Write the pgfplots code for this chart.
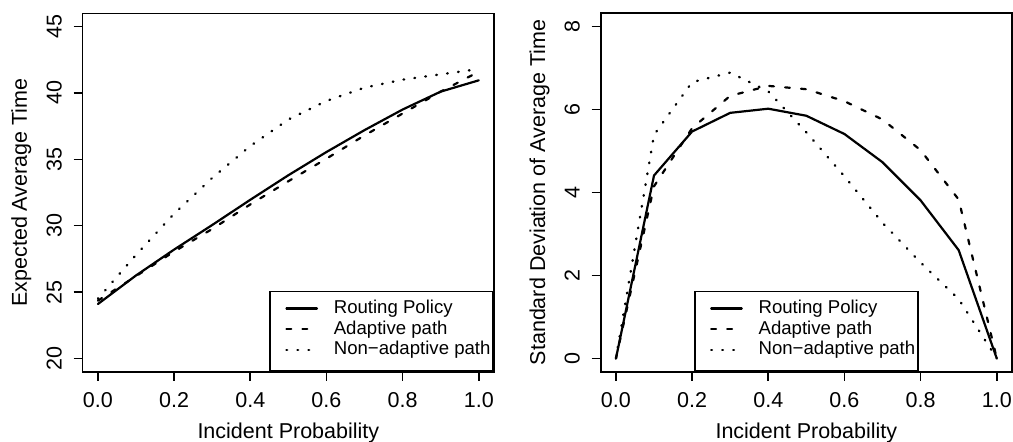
\documentclass[border=0pt]{standalone}
\usepackage{fontspec}
\setmainfont{Liberation Sans}
\usepackage{pgfplots}
\pgfplotsset{compat=1.18}

% R-like base graphics style, 1px = 0.5pt
\pgfplotsset{
  rplot/.style={
    scale only axis, width=205.65pt, height=179.2pt,
    xmin=-0.04, xmax=1.04,
    axis line style={line width=0.8pt},
    tick align=outside, xtick pos=bottom, ytick pos=left,
    major tick length=4.5pt,
    every tick/.style={black, line width=0.8pt},
    xtick={0,0.2,0.4,0.6,0.8,1},
    xticklabels={0.0,0.2,0.4,0.6,0.8,1.0},
    tick label style={font=\fontsize{10.75}{12}\selectfont},
    xticklabel style={anchor=north, inner sep=0pt},
    yticklabel style={rotate=90, anchor=base, inner sep=0pt},
    xticklabel shift=5.5pt, yticklabel shift=6pt,
    every axis x label/.style={at={(rel axis cs:0.5,0)}, anchor=base, inner sep=0pt, yshift=-33.3pt, font=\fontsize{10.75}{12}\selectfont},
    every axis y label/.style={at={(rel axis cs:0,0.5)}, xshift=-27.85pt, rotate=90, anchor=base, inner sep=0pt, font=\fontsize{10.75}{12}\selectfont},
    xlabel={Incident Probability},
    legend cell align=left,
    legend style={draw=black, line width=0.8pt, fill=white,
      font=\fontsize{9.3}{10}\selectfont,
      inner xsep=1.35pt, inner ysep=4.5pt, row sep=0.35pt, column sep=7.85pt,
      nodes={inner sep=0pt, text height=6.5pt, text depth=3.5pt}},
    legend image code/.code={\path (0pt,0pt); \draw[##1] (6.3pt,1pt) -- (21.55pt,1pt);},
  },
  rsolid/.style={black, line width=1.1pt, line cap=round, line join=round},
  rdash/.style={black, line width=1.1pt, line cap=round, line join=round, dash pattern=on 2.4pt off 5.6pt},
  rdot/.style={black, line width=1.2pt, line cap=round, line join=round, dash pattern=on 0.35pt off 5.15pt},
}

\pgfplotstableread{
p     routing adaptive nonadaptive
0.0   24.10   24.35    24.50
0.1   26.25   26.20    27.80
0.2   28.20   28.05    30.90
0.3   30.05   29.75    33.60
0.4   31.95   31.60    36.00
0.5   33.80   33.35    38.00
0.6   35.55   35.05    39.40
0.7   37.20   36.80    40.40
0.8   38.75   38.45    41.00
0.9   40.10   40.10    41.40
1.0   40.95   41.60    41.80
}\meantable

\pgfplotstableread{
p     routing adaptive nonadaptive
0.0   0.00    0.00     0.00
0.1   4.41    4.15     5.39
0.2   5.47    5.55     6.66
0.3   5.92    6.33     6.89
0.4   6.02    6.57     6.44
0.5   5.85    6.49     5.45
0.6   5.41    6.20     4.39
0.7   4.73    5.76     3.27
0.8   3.81    5.02     2.31
0.9   2.61    3.83     1.43
1.0   0.00    0.00     0.00
}\sdtable

\begin{document}
\begin{tikzpicture}
\useasboundingbox (0,0) rectangle (506.5pt,220.5pt);

\begin{axis}[rplot, at={(41.35pt,34.65pt)}, anchor=south west,
  ymin=19, ymax=46, ytick={20,25,30,35,40,45}, yticklabels={20,25,30,35,40,45},
  ylabel={Expected Average Time},
  legend style={at={(1,0)}, anchor=south east}]
\addplot[rsolid] table[x=p, y=routing] {\meantable};
\addplot[rdash] table[x=p, y=adaptive] {\meantable};
\addplot[rdot] table[x=p, y=nonadaptive] {\meantable};
\legend{Routing Policy, Adaptive path, Non−adaptive path}
\end{axis}

\begin{axis}[rplot, at={(300.35pt,34.65pt)}, anchor=south west,
  ymin=-0.32, ymax=8.32, ytick={0,2,4,6,8}, yticklabels={0,2,4,6,8},
  ylabel={Standard Deviation of Average Time},
  legend style={at={(0.5,0)}, anchor=south}]
\addplot[rsolid] table[x=p, y=routing] {\sdtable};
\addplot[rdash] table[x=p, y=adaptive] {\sdtable};
\addplot[rdot] table[x=p, y=nonadaptive] {\sdtable};
\legend{Routing Policy, Adaptive path, Non−adaptive path}
\end{axis}
\end{tikzpicture}
\end{document}
